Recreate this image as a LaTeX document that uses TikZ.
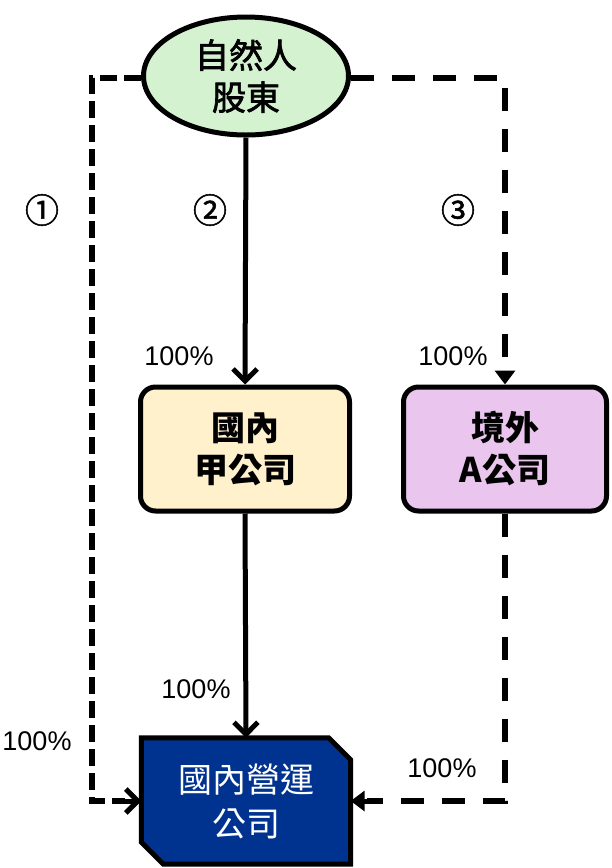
\documentclass[tikz,border=0pt]{standalone}
\usepackage{fontspec}
\setmainfont{Liberation Sans}
\newfontfamily\cjk{Noto Sans CJK TC}
\newfontfamily\cjkm{Noto Sans CJK TC}[FakeBold=2]
\newfontfamily\circfont{Noto Sans CJK TC}[FakeBold=1.5]
\usetikzlibrary{arrows.meta,shapes.geometric}
\definecolor{greenfill}{HTML}{D5F2D0}
\definecolor{yellowfill}{HTML}{FFF1CC}
\definecolor{purplefill}{HTML}{EAC6EE}
\definecolor{bluefill}{HTML}{003390}
\tikzset{
  boxstyle/.style={draw=black, line width=5pt, rounded corners=15pt, align=center,
    font=\cjk\bfseries\fontsize{34pt}{42pt}\selectfont, inner sep=0pt},
  solidconn/.style={line width=5pt, -{Straight Barb[length=12pt,width=24pt,line width=5pt]}},
  shortdash/.style={line width=5.5pt, dash pattern=on 17pt off 7pt},
  longdash/.style={line width=5.5pt, dash pattern=on 23pt off 18pt},
  chev/.style={-{Straight Barb[length=12pt,width=24pt,line width=5pt]}},
  tri/.style={-{Triangle[length=14pt,width=20pt]}},
  pct/.style={font=\fontsize{27pt}{30pt}\selectfont, inner sep=0pt},
  circnum/.style={font=\circfont\fontsize{34pt}{36pt}\selectfont, inner sep=0pt}
}
\begin{document}
\begin{tikzpicture}[x=1pt,y=-1pt]
\useasboundingbox (0,0) rectangle (612,868);
% nodes
\node[ellipse, draw=black, line width=5pt, fill=greenfill, minimum width=205pt, minimum height=118pt,
  inner sep=0pt, align=center, font=\cjkm\fontsize{34pt}{42pt}\selectfont] (sh) at (246,76) {自然人\\股東};
\node[boxstyle, fill=yellowfill, minimum width=209pt, minimum height=124pt] (ja) at (245,449) {國內\\甲公司};
\node[boxstyle, fill=purplefill, minimum width=203pt, minimum height=124pt] (ab) at (505,449) {境外\\A公司};
\node[minimum width=209pt, minimum height=126pt, inner sep=0pt] (op) at (246,801) {};
\draw[line width=5pt, fill=bluefill]
  (op.north west) -- ([xshift=-22pt]op.north east) -- ([yshift=-22pt]op.north east)
  -- (op.south east) -- ([xshift=22pt]op.south west) -- ([yshift=22pt]op.south west) -- cycle;
\node[align=center, text=white, font=\cjk\fontsize{34pt}{44pt}\selectfont, inner sep=0pt] (opt) at (op.center) {國內營運\\公司};
% coordinates for bends
\coordinate (l1) at (92,78);
\coordinate (l2) at (92,801);
\coordinate (r1) at (505,78);
\coordinate (r2) at (505,801);
% connectors
\draw[solidconn] (sh.south) -- (ja.north);
\draw[solidconn] (ja.south) -- (op.north);
\draw[shortdash] (sh.west |- l1) -- (l1) -- (l2) -- ([xshift=-16pt]op.west);
\draw[line width=5pt, chev] ([xshift=-16pt]op.west) -- (op.west);
\draw[longdash] (sh.east |- r1) -- (r1) -- ([yshift=14pt]ab.north);
\draw[line width=5pt, tri] ([yshift=14pt]ab.north) -- (ab.north);
\draw[longdash] (ab.south) -- (r2) -- ([xshift=16pt]op.east);
\draw[line width=5pt, tri] ([xshift=16pt]op.east) -- (op.east);
% labels
\node[circnum] (c1) at (42,210) {①};
\node[circnum] (c2) at (210,210) {②};
\node[circnum] (c3) at (458,210) {③};
\node[pct] (p1) at (179,356) {100\%};
\node[pct] (p2) at (453,356) {100\%};
\node[pct] (p3) at (196,689) {100\%};
\node[pct] (p4) at (37,741) {100\%};
\node[pct] (p5) at (442,768) {100\%};
\end{tikzpicture}
\end{document}
